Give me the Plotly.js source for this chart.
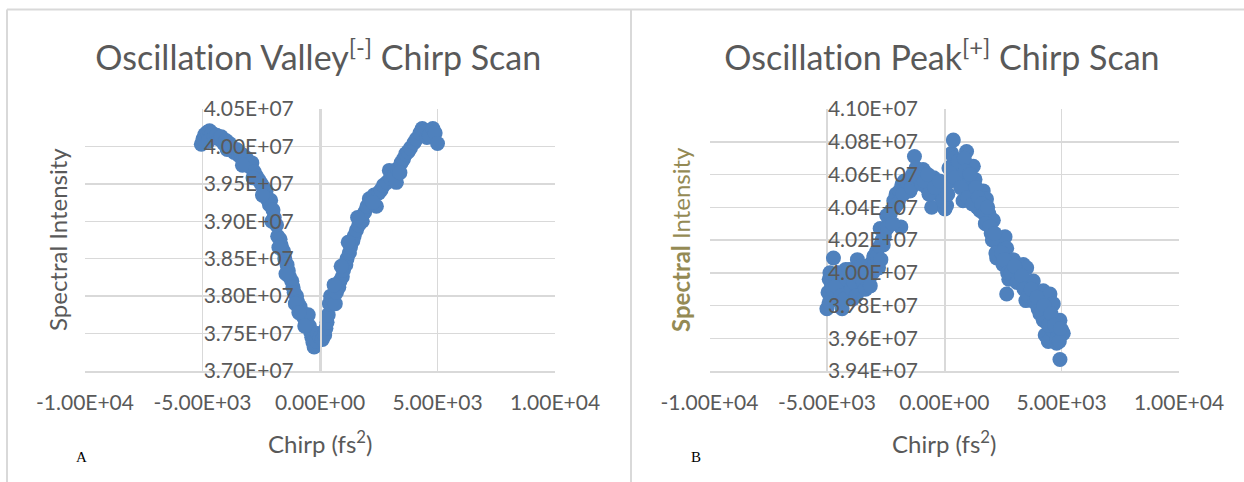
<!DOCTYPE html>
<html>
<head>
<meta charset="utf-8">
<script src="https://cdn.plot.ly/plotly-3.0.1.min.js"></script>
<style>html,body{margin:0;padding:0;background:#fff;}#chart{width:1244px;height:482px;}
#chart text{font-variant-ligatures:none;font-feature-settings:"liga" 0;}</style>
</head>
<body>
<div id="chart"></div>
<script>
// ---- Data ----
const valleyChirp = [-5050,-4980,-4900,-4800,-4700,-4600,-4750,-4500,-4400,-4300,-4200,-4100,-4000,-3950,-3850,-3750,-3650,-3550,-3450,-3350,-3250,-3150,-3050,-2950,-2900,-2800,-2700,-2600,-2500,-2400,-2300,-2250,-2150,-2100,-2000,-1950,-1850,-1800,-1700,-1650,-1550,-1500,-1400,-1350,-1300,-1200,-1150,-1100,-1000,-950,-850,-800,-700,-600,-500,-450,-400,-350,-300,-250,-150,-100,0,100,200,250,300,350,400,450,550,650,700,800,850,950,1000,1100,1150,1250,1300,1400,1450,1550,1650,1700,1800,1900,2000,2100,2200,2300,2400,2500,2600,2700,2850,2950,3000,3150,3250,3300,3450,3550,3650,3750,3850,4000,4100,4250,4350,4450,4550,4650,4800,4900,5000,
  -3300,-2850,-2450,-2050,-1750,-1450,-1050,-900,-650,600,900,1200,1600,2250,3400];
const valleyIntensity = [4.003e7,4.010e7,4.016e7,4.019e7,4.021e7,4.018e7,4.007e7,4.012e7,4.015e7,4.010e7,4.013e7,4.004e7,4.008e7,3.996e7,4.004e7,3.998e7,3.992e7,3.996e7,3.988e7,3.990e7,3.983e7,3.985e7,3.976e7,3.972e7,3.978e7,3.966e7,3.960e7,3.955e7,3.950e7,3.945e7,3.940e7,3.930e7,3.922e7,3.928e7,3.915e7,3.905e7,3.895e7,3.880e7,3.876e7,3.868e7,3.860e7,3.850e7,3.842e7,3.834e7,3.826e7,3.820e7,3.812e7,3.805e7,3.800e7,3.792e7,3.786e7,3.780e7,3.772e7,3.768e7,3.775e7,3.760e7,3.752e7,3.745e7,3.738e7,3.732e7,3.740e7,3.750e7,3.745e7,3.742e7,3.748e7,3.757e7,3.765e7,3.775e7,3.790e7,3.800e7,3.795e7,3.790e7,3.805e7,3.812e7,3.820e7,3.826e7,3.835e7,3.842e7,3.850e7,3.858e7,3.866e7,3.874e7,3.880e7,3.888e7,3.895e7,3.905e7,3.900e7,3.912e7,3.920e7,3.930e7,3.928e7,3.935e7,3.920e7,3.938e7,3.942e7,3.948e7,3.952e7,3.968e7,3.958e7,3.960e7,3.952e7,3.970e7,3.978e7,3.983e7,3.990e7,3.993e7,3.998e7,4.005e7,4.010e7,4.018e7,4.024e7,4.020e7,4.012e7,4.015e7,4.024e7,4.018e7,4.004e7,
  3.975e7,3.958e7,3.935e7,3.900e7,3.865e7,3.830e7,3.790e7,3.778e7,3.760e7,3.815e7,3.840e7,3.872e7,3.905e7,3.925e7,3.965e7];

const peakChirp = [-5000,-4950,-4900,-4870,-4720,-4800,-4650,-4550,-4450,-4350,-4300,-4200,-4100,-4000,-3900,-3800,-3700,-3600,-3500,-3400,-3300,-3200,-3100,-3000,-2880,-2800,-2730,-2650,-2600,-2500,-2450,-2350,-2250,-2100,-2050,-1950,-1850,-1800,-1700,-1600,-1460,-1350,-1270,-1150,-1000,-900,-750,-600,-535,-450,-320,-250,-100,30,100,250,300,316,386,500,650,800,950,1050,1150,1240,1310,1400,1520,1660,1800,1900,2000,2090,2234,2300,2374,2500,2590,2660,2660,2750,2800,2940,3050,3150,3226,3367,3478,3512,3650,3793,3900,4000,4078,4150,4219,4219,4300,4432,4503,4600,4645,4787,4850,4929,5000,5071,4929,
  -4900,-4750,-4600,-4500,-4400,-4250,-4150,-4050,-3950,-3850,-3750,-3650,-3550,-3450,-3350,-3250,-3150,-3050,-2950,-2850,-2750,-2700,-2550,-2400,-2300,-2200,-2150,-2000,-1900,-1750,-1650,-1550,-1400,-1300,-1200,-1100,-950,-850,-700,-650,-400,-200,-50,150,200,400,450,600,700,850,900,1000,1100,1200,1350,1450,1600,1700,1750,1850,1950,2050,2150,2200,2450,2550,2700,2850,3000,3100,3300,3400,3600,3700,3850,3950,4100,4250,4350,4450,4550,4700,4800,4900,4950];
const peakIntensity = [3.978e7,3.988e7,3.996e7,4.000e7,4.009e7,3.992e7,3.998e7,3.985e7,3.994e7,3.978e7,3.990e7,4.002e7,3.988e7,3.995e7,3.984e7,4.000e7,4.008e7,3.992e7,3.990e7,4.000e7,4.004e7,3.996e7,4.006e7,4.010e7,4.013e7,4.003e7,4.027e7,4.020e7,4.017e7,4.026e7,4.035e7,4.031e7,4.038e7,4.040e7,4.048e7,4.044e7,4.028e7,4.054e7,4.056e7,4.050e7,4.050e7,4.060e7,4.071e7,4.062e7,4.058e7,4.063e7,4.052e7,4.056e7,4.040e7,4.058e7,4.050e7,4.048e7,4.052e7,4.039e7,4.041e7,4.056e7,4.062e7,4.073e7,4.081e7,4.066e7,4.060e7,4.044e7,4.074e7,4.058e7,4.050e7,4.065e7,4.057e7,4.040e7,4.038e7,4.050e7,4.045e7,4.036e7,4.024e7,4.032e7,4.009e7,4.016e7,4.018e7,4.005e7,4.022e7,4.015e7,3.987e7,3.996e7,4.003e7,4.008e7,3.999e7,4.003e7,3.997e7,4.005e7,3.983e7,4.003e7,3.992e7,3.995e7,3.988e7,3.978e7,3.975e7,3.982e7,3.989e7,3.971e7,3.962e7,3.958e7,3.987e7,3.965e7,3.981e7,3.957e7,3.963e7,3.971e7,3.965e7,3.963e7,3.947e7,
  3.982e7,3.990e7,3.992e7,4.000e7,3.986e7,3.984e7,3.996e7,4.002e7,3.990e7,3.994e7,3.986e7,3.998e7,4.004e7,3.994e7,3.990e7,4.000e7,3.992e7,4.000e7,4.006e7,4.010e7,4.016e7,4.008e7,4.022e7,4.028e7,4.036e7,4.030e7,4.044e7,4.042e7,4.050e7,4.048e7,4.056e7,4.055e7,4.052e7,4.058e7,4.064e7,4.058e7,4.054e7,4.056e7,4.060e7,4.048e7,4.052e7,4.056e7,4.044e7,4.048e7,4.064e7,4.070e7,4.058e7,4.068e7,4.052e7,4.070e7,4.062e7,4.046e7,4.060e7,4.042e7,4.052e7,4.046e7,4.042e7,4.036e7,4.030e7,4.040e7,4.028e7,4.020e7,4.024e7,4.012e7,4.012e7,4.008e7,4.000e7,4.000e7,4.004e7,3.994e7,3.998e7,3.990e7,3.986e7,3.990e7,3.982e7,3.985e7,3.975e7,3.980e7,3.970e7,3.968e7,3.975e7,3.968e7,3.960e7,3.958e7,3.966e7];

// Tick labels
const chirpTickVals = [-10000,-5000,0,5000,10000];
const chirpTickText = ['-1.00E+04','-5.00E+03','0.00E+00','5.00E+03','1.00E+04'];
const valleyTickVals = [3.70e7,3.75e7,3.80e7,3.85e7,3.90e7,3.95e7,4.00e7,4.05e7];
const valleyTickText = ['3.70E+07','3.75E+07','3.80E+07','3.85E+07','3.90E+07','3.95E+07','4.00E+07','4.05E+07'];
const peakTickVals = [3.94e7,3.96e7,3.98e7,4.00e7,4.02e7,4.04e7,4.06e7,4.08e7,4.10e7];
const peakTickText = ['3.94E+07','3.96E+07','3.98E+07','4.00E+07','4.02E+07','4.04E+07','4.06E+07','4.08E+07','4.10E+07'];

const titleA = 'Oscillation Valley<sup>[-]</sup> Chirp Scan';
const titleB = 'Oscillation Peak<sup>[+]</sup> Chirp Scan';
const xTitle = 'Chirp (fs<sup>2</sup>)';
const yTitleA = 'Spectral Intensity';
const yTitleB = '<b>Spectral</b> Intensity';

// ---- Layout helpers ----
const W = 1244, H = 482;
const px = v => v / W;
const py = v => 1 - v / H;
const FONT = 'Lato, "Open Sans", sans-serif';
const TXT = '#595959';
const GRID = '#d9d9d9';
const MARK = '#4f81bd';

const plotTop = 109, plotBottom = 371;
const aLeft = 85, aRight = 555, bLeft = 709.5, bRight = 1179;

const xCommon = {
  range: [-10000, 10000], tickmode: 'array', tickvals: chirpTickVals, ticktext: chirpTickText,
  showgrid: true, gridcolor: GRID, gridwidth: 1.5, zeroline: false,
  showline: true, linecolor: GRID, linewidth: 1.5, ticks: '',
  tickfont: {family: FONT, size: 21, color: TXT}, ticklabelstandoff: 12, fixedrange: true
};
const yCommon = {
  tickmode: 'array', showgrid: true, gridcolor: GRID, gridwidth: 1.5, zeroline: false,
  showline: true, linecolor: GRID, linewidth: 1.5, ticks: '', anchor: 'free',
  tickfont: {family: FONT, size: 21, color: TXT}, ticklabelstandoff: 22, fixedrange: true
};

const traces = [
  {x: valleyChirp, y: valleyIntensity, type: 'scatter', mode: 'markers', xaxis: 'x', yaxis: 'y',
   marker: {color: MARK, size: 15}, hoverinfo: 'x+y'},
  {x: peakChirp, y: peakIntensity, type: 'scatter', mode: 'markers', xaxis: 'x2', yaxis: 'y2',
   marker: {color: MARK, size: 15}, hoverinfo: 'x+y'}
];

const layout = {
  width: W, height: H, margin: {l: 0, r: 0, t: 0, b: 0},
  paper_bgcolor: '#fff', plot_bgcolor: 'rgba(0,0,0,0)', showlegend: false,
  xaxis: Object.assign({}, xCommon, {domain: [px(aLeft), px(aRight)], anchor: 'y'}),
  yaxis: Object.assign({}, yCommon, {domain: [py(plotBottom), py(plotTop)], range: [3.70e7, 4.05e7],
    tickvals: valleyTickVals, ticktext: valleyTickText, position: px((aLeft + aRight) / 2)}),
  xaxis2: Object.assign({}, xCommon, {domain: [px(bLeft), px(bRight)], anchor: 'y2'}),
  yaxis2: Object.assign({}, yCommon, {domain: [py(plotBottom), py(plotTop)], range: [3.94e7, 4.10e7],
    tickvals: peakTickVals, ticktext: peakTickText, position: px((bLeft + bRight) / 2)}),
  shapes: [
    {type: 'line', xref: 'paper', yref: 'paper', x0: px(7), x1: 1, y0: py(9.5), y1: py(9.5), line: {color: GRID, width: 2}},
    {type: 'line', xref: 'paper', yref: 'paper', x0: px(7), x1: px(7), y0: py(9.5), y1: 0, line: {color: GRID, width: 2}},
    {type: 'line', xref: 'paper', yref: 'paper', x0: px(631), x1: px(631), y0: py(9.5), y1: 0, line: {color: GRID, width: 2}}
  ],
  annotations: [
    {text: titleA, xref: 'paper', yref: 'paper', x: px(318), y: py(55), xanchor: 'center', yanchor: 'middle', showarrow: false,
     font: {family: FONT, size: 34, color: TXT}},
    {text: titleB, xref: 'paper', yref: 'paper', x: px(942), y: py(55), xanchor: 'center', yanchor: 'middle', showarrow: false,
     font: {family: FONT, size: 34, color: TXT}},
    {text: xTitle, xref: 'paper', yref: 'paper', x: px(320), y: py(442), xanchor: 'center', yanchor: 'middle', showarrow: false,
     font: {family: FONT, size: 24, color: TXT}},
    {text: xTitle, xref: 'paper', yref: 'paper', x: px(944), y: py(442), xanchor: 'center', yanchor: 'middle', showarrow: false,
     font: {family: FONT, size: 24, color: TXT}},
    {text: yTitleA, xref: 'paper', yref: 'paper', x: px(57), y: py(240), xanchor: 'center', yanchor: 'middle', showarrow: false, textangle: -90,
     font: {family: FONT, size: 24, color: TXT}},
    {text: yTitleB, xref: 'paper', yref: 'paper', x: px(680), y: py(240), xanchor: 'center', yanchor: 'middle', showarrow: false, textangle: -90,
     font: {family: FONT, size: 24, color: '#948a54'}},
    {text: 'A', xref: 'paper', yref: 'paper', x: px(82), y: py(457), xanchor: 'center', yanchor: 'middle', showarrow: false,
     font: {family: '"Liberation Serif", "Times New Roman", serif', size: 15, color: '#000'}},
    {text: 'B', xref: 'paper', yref: 'paper', x: px(696), y: py(457), xanchor: 'center', yanchor: 'middle', showarrow: false,
     font: {family: '"Liberation Serif", "Times New Roman", serif', size: 15, color: '#000'}}
  ]
};

Plotly.newPlot('chart', traces, layout, {displayModeBar: false, staticPlot: true});
</script>
</body>
</html>
